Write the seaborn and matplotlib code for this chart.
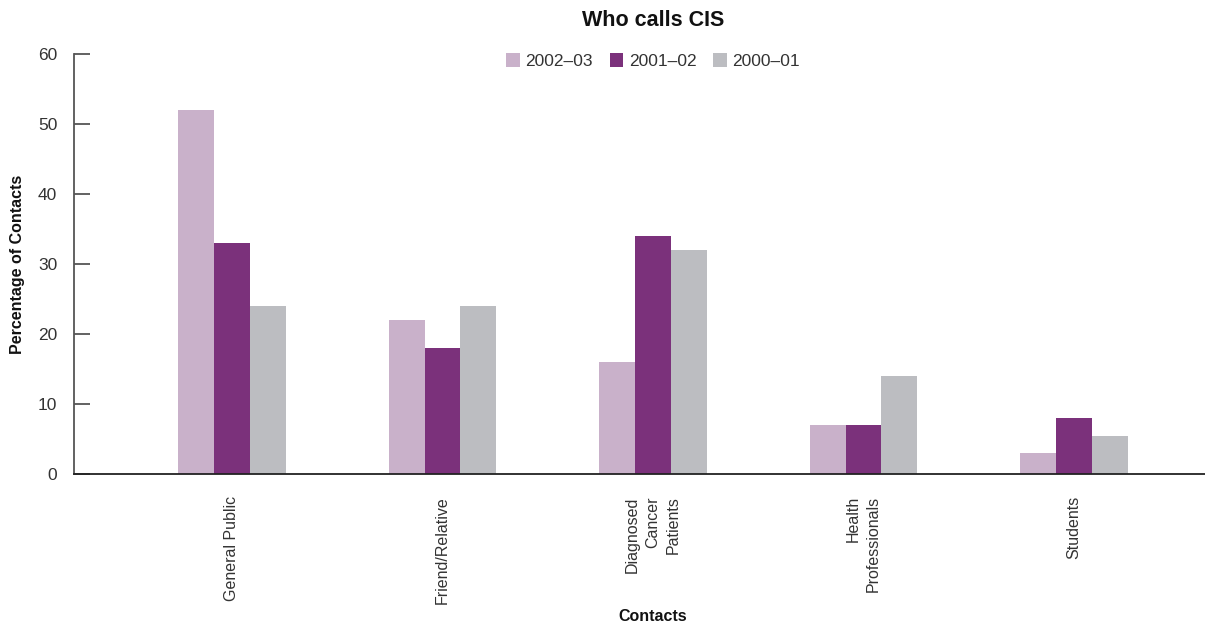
import matplotlib
matplotlib.use("Agg")
import matplotlib.pyplot as plt
import seaborn as sns
import pandas as pd

# Share of calls to the Cancer Information Service by type of caller
categories = ["General Public", "Friend/Relative", "Diagnosed\nCancer\nPatients",
              "Health\nProfessionals", "Students"]
years = ["2002\u201303", "2001\u201302", "2000\u201301"]
pct_2002_03 = [52, 22, 16, 7, 3]
pct_2001_02 = [33, 18, 34, 7, 8]
pct_2000_01 = [24, 24, 32, 14, 5.5]
y_ticks = [0, 10, 20, 30, 40, 50, 60]
colors = ["#C9B1CA", "#7B317B", "#BCBDC1"]

df = pd.DataFrame({
    "Contacts": categories * 3,
    "Year": [years[0]] * 5 + [years[1]] * 5 + [years[2]] * 5,
    "Percent": pct_2002_03 + pct_2001_02 + pct_2000_01,
})

sns.set_theme(style="white")
plt.rcParams["font.family"] = ["Liberation Sans", "DejaVu Sans"]

fig = plt.figure(figsize=(12.05, 6.27), dpi=100)
ax = fig.add_axes([0.0614, 0.244, 0.961, 0.6699])

sns.barplot(data=df, x="Contacts", y="Percent", hue="Year", hue_order=years,
            order=categories, palette=colors, saturation=1, width=0.51,
            gap=0, linewidth=0, edgecolor="none", ax=ax)

ax.set_xlim(-0.75, 4.75)
ax.set_ylim(0, 60)
ax.set_yticks(y_ticks)
ax.set_yticklabels([str(t) for t in y_ticks], fontsize=12.5, color="#333333")

for s in ["top", "right"]:
    ax.spines[s].set_visible(False)
ax.spines["left"].set_color("#555555")
ax.spines["left"].set_linewidth(1.3)
ax.spines["bottom"].set_color("#222222")
ax.spines["bottom"].set_linewidth(1.3)

ax.tick_params(axis="y", direction="in", length=11.5, width=1.3,
               color="#555555", pad=12, left=True)
ax.tick_params(axis="x", length=0, pad=16)

ax.set_xticks(range(len(categories)))
ax.set_xticklabels(categories, rotation=90, fontsize=11.5, color="#333333",
                   ha="center", va="top", multialignment="right",
                   linespacing=1.45)

ax.set_xlabel("Contacts", fontsize=11.5, fontweight="bold", color="#111111")
ax.xaxis.set_label_coords(0.5, -0.322)
ax.set_ylabel("Percentage of Contacts", fontsize=11.5, fontweight="bold",
              color="#111111")
ax.yaxis.set_label_coords(-0.042, 0.5)

ax.set_title("Who calls CIS", fontsize=15.5, fontweight="bold",
             color="#111111", pad=20)

leg = ax.legend(loc="upper center", bbox_to_anchor=(0.5, 1.018), ncol=3,
                frameon=False, fontsize=12.5, handlelength=0.8,
                handleheight=0.8, handletextpad=0.3, columnspacing=0.95,
                borderaxespad=0)
for t in leg.get_texts():
    t.set_color("#333333")

fig.savefig("out.png", dpi=100)
